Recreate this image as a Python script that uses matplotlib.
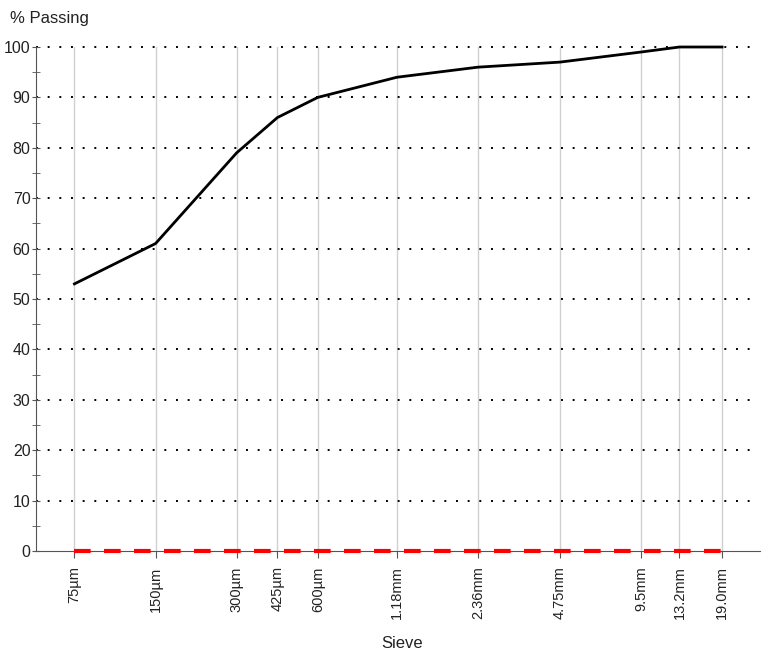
import matplotlib.pyplot as plt
from matplotlib.ticker import FixedLocator, MultipleLocator, NullLocator

plt.rcParams['font.family'] = ['Liberation Sans', 'DejaVu Sans']

# sieve sizes in micrometres and their labels
sieve_um = [75, 150, 300, 425, 600, 1180, 2360, 4750, 9500, 13200, 19000]
sieve_labels = ["75µm", "150µm", "300µm", "425µm", "600µm", "1.18mm",
                "2.36mm", "4.75mm", "9.5mm", "13.2mm", "19.0mm"]
passing = [53, 61, 79, 86, 90, 94, 96, 97, 99, 100, 100]
baseline = [0, 0, 0, 0, 0, 0, 0, 0, 0, 0, 0]

fig = plt.figure(figsize=(7.61, 6.52), dpi=100)
ax = fig.add_axes([36 / 761, 1 - 551 / 652, 725 / 761, (551 - 47) / 652])

ax.set_xscale("log")
ax.set_xlim(54, 26500)
ax.set_ylim(0, 100)

# grid: light vertical lines at each sieve, dotted horizontal lines
for s in sieve_um:
    ax.axvline(s, color="#d0d0d0", lw=1, zorder=1)
for yv in range(10, 101, 10):
    ax.axhline(yv, xmax=0.99, color="black", lw=1.4, dashes=(1, 5), zorder=1, clip_on=False)

ax.plot(sieve_um, passing, color="black", lw=2, zorder=3, clip_on=False)
ax.plot(sieve_um, baseline, color="#ff0000", lw=3, dashes=(4, 3.2), zorder=3, clip_on=False)

for side in ["top", "right"]:
    ax.spines[side].set_visible(False)
ax.spines["left"].set_color("#555555")
ax.spines["bottom"].set_color("#555555")

ax.xaxis.set_major_locator(FixedLocator(sieve_um))
ax.xaxis.set_minor_locator(NullLocator())
ax.set_xticklabels(sieve_labels, rotation=90, fontsize=10.5, color="#222222")
ax.tick_params(axis="x", length=5, color="#555555", pad=6)

ax.yaxis.set_major_locator(MultipleLocator(10))
ax.yaxis.set_minor_locator(MultipleLocator(5))
ax.tick_params(axis="y", which="major", length=6, direction="inout", color="#555555",
               labelsize=11.5, labelcolor="#222222", pad=1)
ax.tick_params(axis="y", which="minor", length=6, direction="inout", color="#555555")

fig.text(10 / 761, 1 - 18 / 652, "% Passing", fontsize=12, color="#222222", va="center", ha="left")
fig.text(402 / 761, 1 - 643 / 652, "Sieve", fontsize=12, color="#222222", va="center", ha="center")

fig.savefig("out.png", dpi=100)
